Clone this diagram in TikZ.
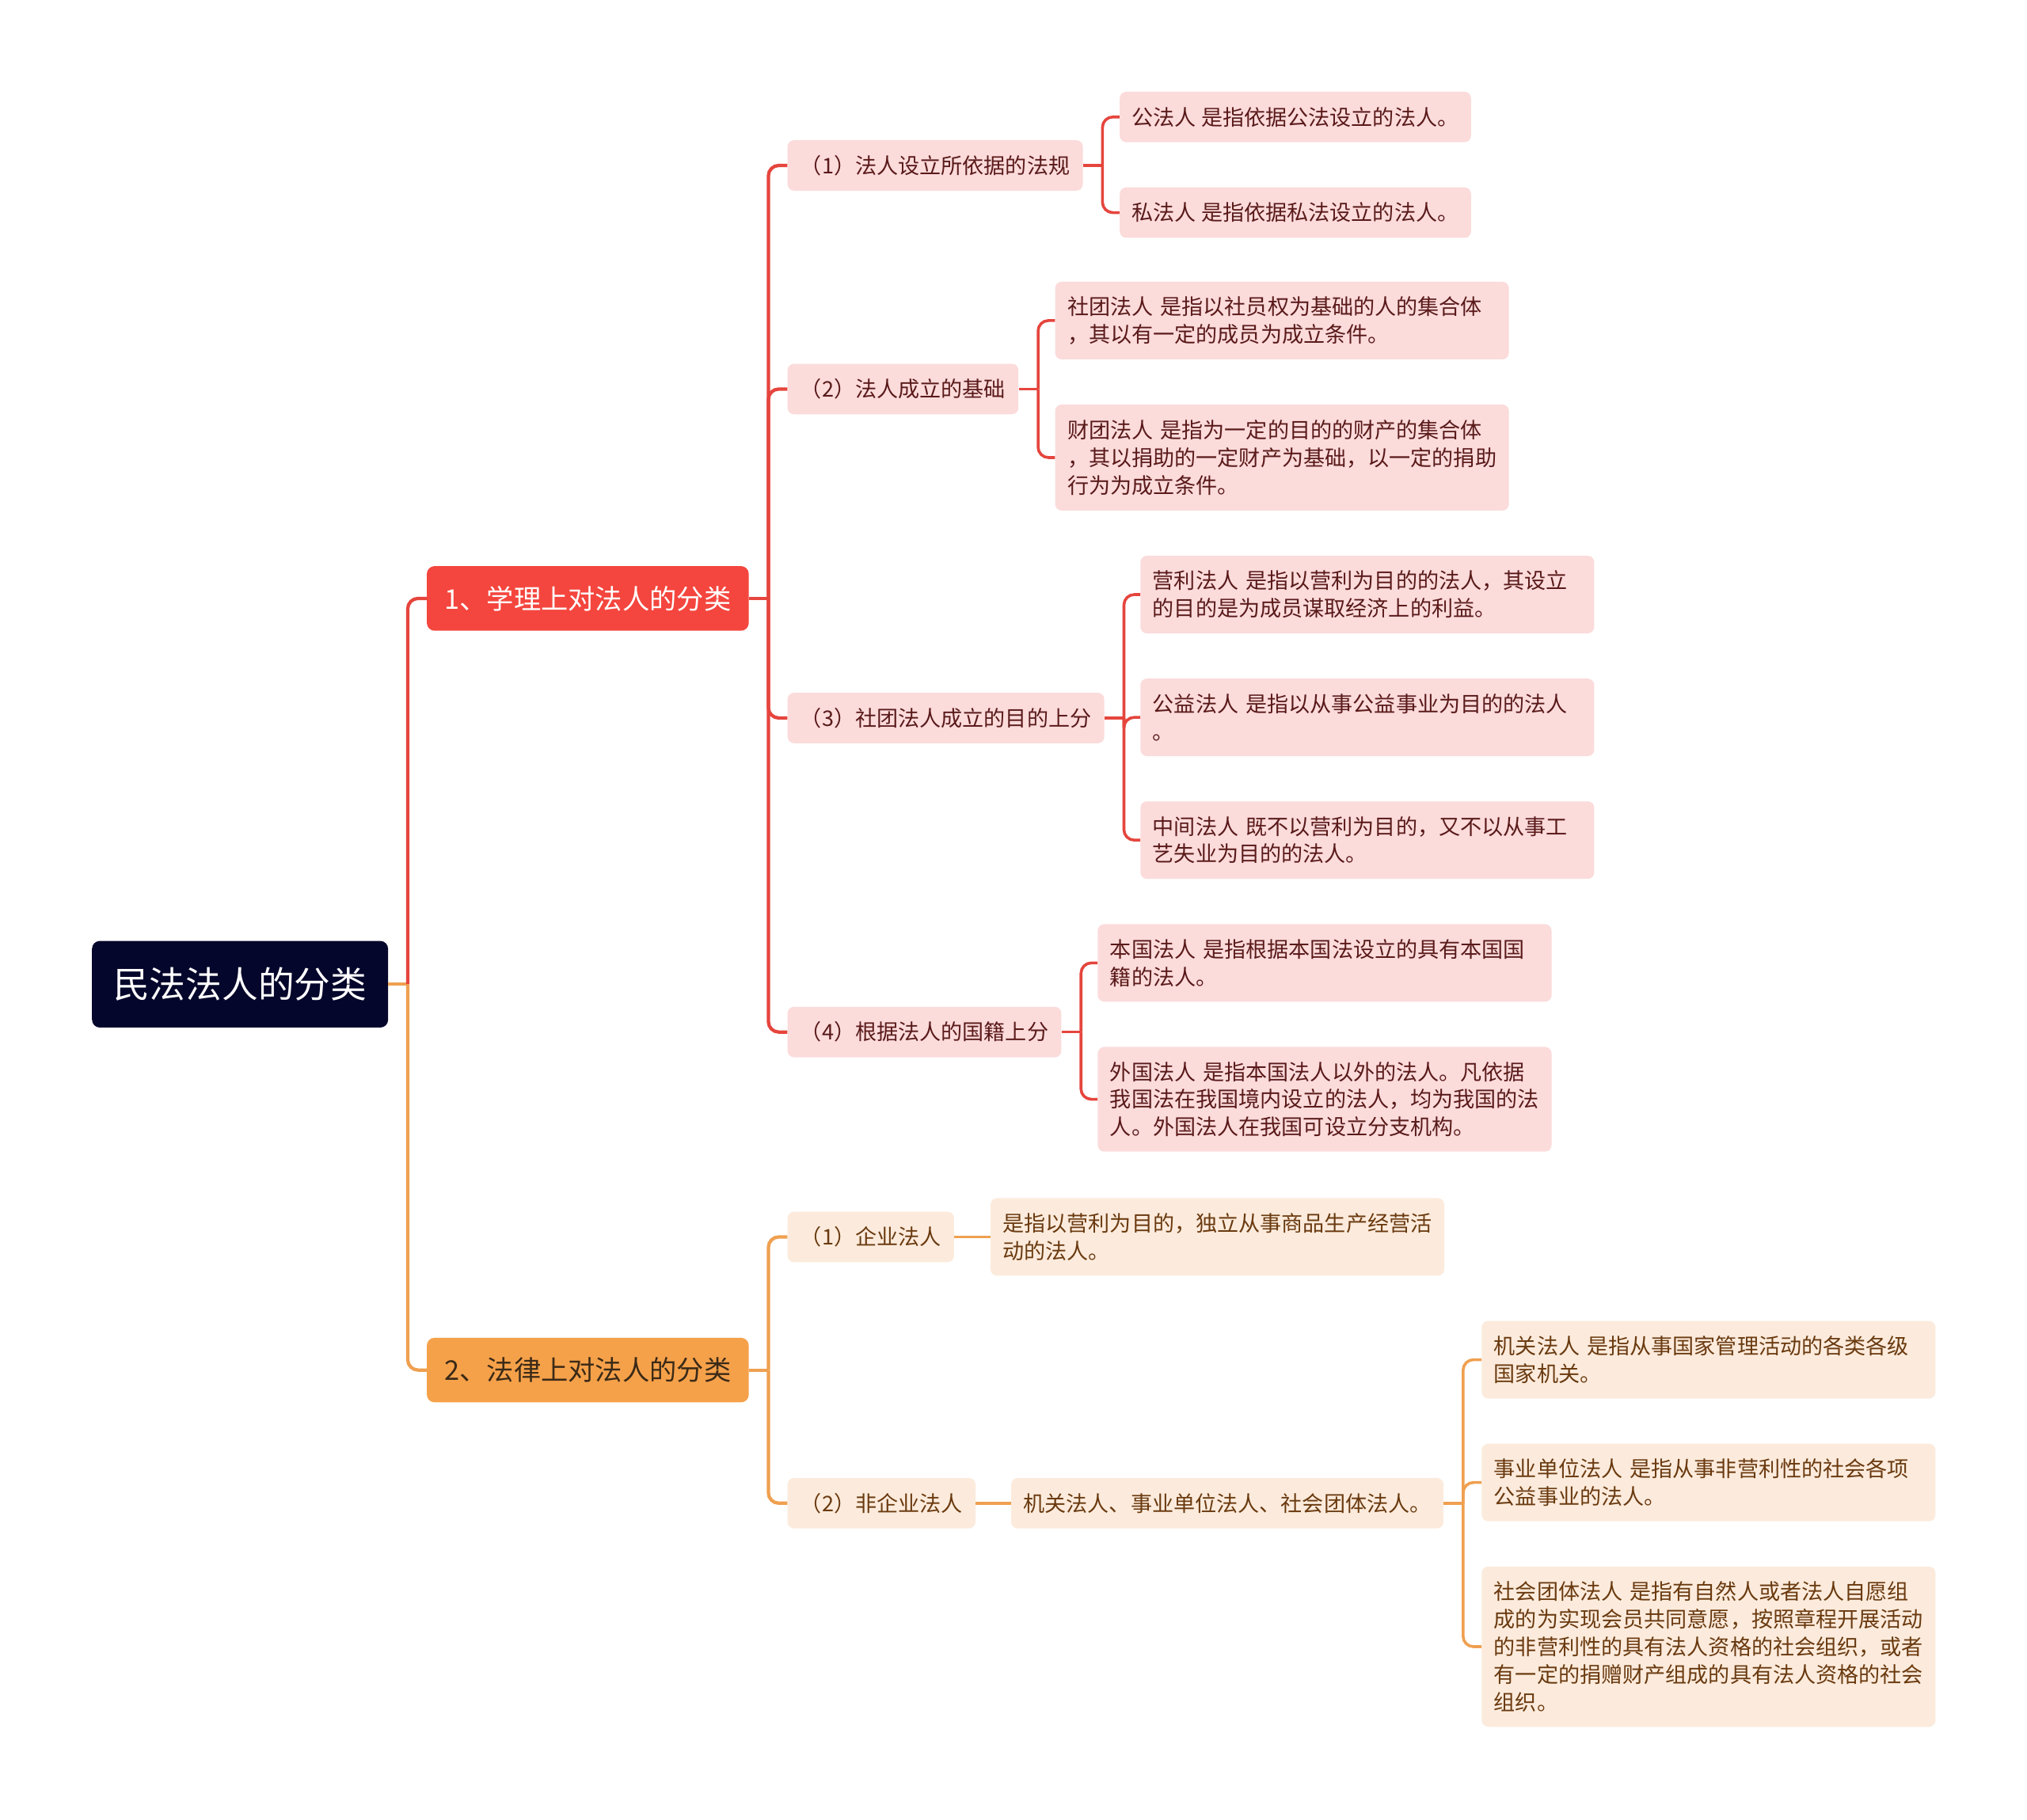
\documentclass[tikz,border=0pt]{standalone}
\usepackage{fontspec}
\setmainfont{Noto Sans CJK SC}
\definecolor{rootc}{HTML}{05062B}
\definecolor{redA}{HTML}{F4463E}
\definecolor{redL}{HTML}{E5453D}
\definecolor{pinkF}{HTML}{FCDBDB}
\definecolor{redT}{HTML}{5A1A1A}
\definecolor{orA}{HTML}{F5A14A}
\definecolor{orL}{HTML}{EFA050}
\definecolor{orF}{HTML}{FCEBDC}
\definecolor{orT}{HTML}{6A3A10}
\definecolor{orTT}{HTML}{3B2A17}
\tikzset{
  rootbox/.style={fill=rootc, text=white, rounded corners=6, inner sep=0,
    minimum width=229, minimum height=67, anchor=west,
    font=\fontsize{28}{34}\selectfont},
  topbox/.style={rounded corners=6, inner sep=0, minimum width=249,
    minimum height=50, anchor=west, font=\fontsize{21}{26}\selectfont},
  subbox/.style={rounded corners=5, inner xsep=10, inner ysep=0,
    minimum height=39, anchor=west, font=\fontsize{16.6}{21.3}\selectfont},
  leafbox/.style={rounded corners=5, inner xsep=9.5, inner ysep=0,
    minimum height=39, anchor=west, font=\fontsize{16.6}{21.3}\selectfont},
  wide/.style={text width=332, align=left},
  redbox/.style={fill=pinkF, text=redT},
  orbox/.style={fill=orF, text=orT},
  lnred/.style={draw=redL, line width=2.2},
  lnor/.style={draw=orL, line width=2.2},
}
\begin{document}
\begin{tikzpicture}[x=1pt,y=-1pt]
\useasboundingbox[fill=white] (0,0) rectangle (1568,1408);
% root
\node[rootbox] (root) at (71,761.5) {民法法人的分类};
% level 1
\node[topbox, fill=redA, text=white] (t1) at (330,463) {1、学理上对法人的分类};
\node[topbox, fill=orA, text=orTT] (t2) at (330,1060) {2、法律上对法人的分类};
% level 2 red
\node[subbox, redbox] (s1) at (609,128) {（1）法人设立所依据的法规};
\node[subbox, redbox] (s2) at (609,301) {（2）法人成立的基础};
\node[subbox, redbox] (s3) at (609,555.5) {（3）社团法人成立的目的上分};
\node[subbox, redbox] (s4) at (609,798.5) {（4）根据法人的国籍上分};
% level 2 orange
\node[subbox, orbox] (s5) at (609,957) {（1）企业法人};
\node[subbox, orbox] (s6) at (609,1163) {（2）非企业法人};
% level 3 red
\node[leafbox, redbox] (a1) at (866,90.5) {公法人 是指依据公法设立的法人。};
\node[leafbox, redbox] (a2) at (866,164.5) {私法人 是指依据私法设立的法人。};
\node[leafbox, redbox, wide, minimum height=60] (b1) at (816,248) {社团法人 是指以社员权为基础的人的集合体\\，其以有一定的成员为成立条件。};
\node[leafbox, redbox, wide, minimum height=82] (b2) at (816,354) {财团法人 是指为一定的目的的财产的集合体\\，其以捐助的一定财产为基础，以一定的捐助\\行为为成立条件。};
\node[leafbox, redbox, wide, minimum height=60] (c1) at (882,460) {营利法人 是指以营利为目的的法人，其设立\\的目的是为成员谋取经济上的利益。};
\node[leafbox, redbox, wide, minimum height=60] (c2) at (882,555) {公益法人 是指以从事公益事业为目的的法人\\。};
\node[leafbox, redbox, wide, minimum height=60] (c3) at (882,650) {中间法人 既不以营利为目的，又不以从事工\\艺失业为目的的法人。};
\node[leafbox, redbox, wide, minimum height=60] (d1) at (849,745) {本国法人 是指根据本国法设立的具有本国国\\籍的法人。};
\node[leafbox, redbox, wide, minimum height=81] (d2) at (849,850.5) {外国法人 是指本国法人以外的法人。凡依据\\我国法在我国境内设立的法人，均为我国的法\\人。外国法人在我国可设立分支机构。};
% level 3 orange
\node[leafbox, orbox, wide, minimum height=60] (e1) at (766,957) {是指以营利为目的，独立从事商品生产经营活\\动的法人。};
\node[leafbox, orbox] (f1) at (782,1163) {机关法人、事业单位法人、社会团体法人。};
\node[leafbox, orbox, wide, minimum height=60] (g1) at (1146,1052) {机关法人 是指从事国家管理活动的各类各级\\国家机关。};
\node[leafbox, orbox, wide, minimum height=60] (g2) at (1146,1147) {事业单位法人 是指从事非营利性的社会各项\\公益事业的法人。};
\node[leafbox, orbox, wide, minimum height=124] (g3) at (1146,1274) {社会团体法人 是指有自然人或者法人自愿组\\成的为实现会员共同意愿，按照章程开展活动\\的非营利性的具有法人资格的社会组织，或者\\有一定的捐赠财产组成的具有法人资格的社会\\组织。};
% connectors: root
\draw[lnor, line width=2.6] (root.east) -- ++(15,0) coordinate (j0);
\draw[lnred, line width=2.6, rounded corners=8] (j0) |- (t1.west);
\draw[lnor, line width=2.6, rounded corners=8] (j0) |- (t2.west);
% red level 1 -> 2
\draw[lnred, line width=2.6] (t1.east) -- ++(15,0) coordinate (j1);
\foreach \c in {s1,s2,s3,s4} \draw[lnred, line width=2.6, rounded corners=8] (j1) |- (\c.west);
% orange level 1 -> 2
\draw[lnor, line width=2.6] (t2.east) -- ++(15,0) coordinate (j2);
\foreach \c in {s5,s6} \draw[lnor, line width=2.6, rounded corners=8] (j2) |- (\c.west);
% red level 2 -> 3
\draw[lnred] (s1.east) -- ++(15,0) coordinate (k1);
\foreach \c in {a1,a2} \draw[lnred, rounded corners=8] (k1) |- (\c.west);
\draw[lnred] (s2.east) -- ++(15,0) coordinate (k2);
\foreach \c in {b1,b2} \draw[lnred, rounded corners=8] (k2) |- (\c.west);
\draw[lnred] (s3.east) -- ++(15,0) coordinate (k3);
\foreach \c in {c1,c2,c3} \draw[lnred, rounded corners=8] (k3) |- (\c.west);
\draw[lnred] (s4.east) -- ++(15,0) coordinate (k4);
\foreach \c in {d1,d2} \draw[lnred, rounded corners=8] (k4) |- (\c.west);
% orange level 2 -> 3
\draw[lnor] (s5.east) -- (e1.west);
\draw[lnor] (s6.east) -- (f1.west);
\draw[lnor] (f1.east) -- ++(15,0) coordinate (k6);
\foreach \c in {g1,g2,g3} \draw[lnor, rounded corners=8] (k6) |- (\c.west);
\end{tikzpicture}
\end{document}
